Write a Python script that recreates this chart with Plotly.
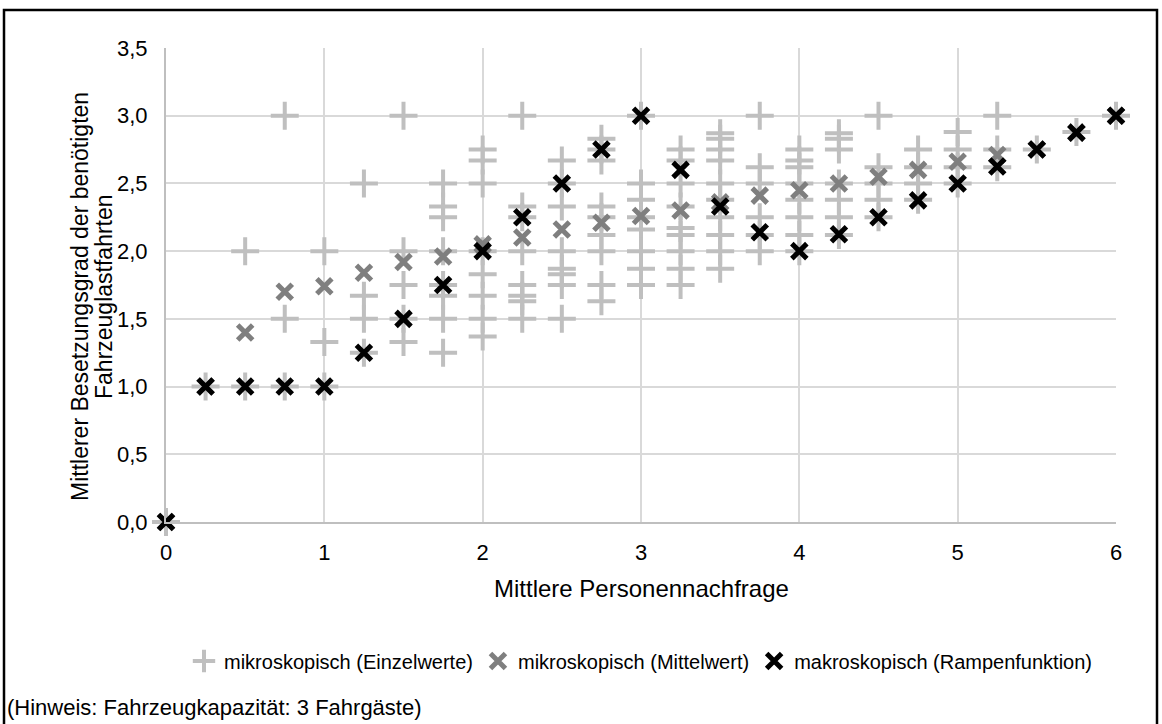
import plotly.graph_objects as go

# ---- data ----
demand_levels = [0, 0.25, 0.5, 0.75, 1.0, 1.25, 1.5, 1.75, 2.0, 2.25, 2.5, 2.75, 3.0,
                 3.25, 3.5, 3.75, 4.0, 4.25, 4.5, 4.75, 5.0, 5.25, 5.5, 5.75, 6.0]

individual_values = [
    [0.0],
    [1.0],
    [2.0, 1.0],
    [3.0, 1.5, 1.0],
    [2.0, 1.33, 1.0],
    [2.5, 1.67, 1.5, 1.25],
    [3.0, 2.0, 1.75, 1.5, 1.33],
    [2.5, 2.33, 2.25, 2.0, 1.75, 1.67, 1.5, 1.25],
    [2.75, 2.67, 2.5, 2.0, 1.83, 1.67, 1.5, 1.37],
    [3.0, 2.33, 2.25, 2.0, 1.75, 1.67, 1.63, 1.5],
    [2.67, 2.5, 2.33, 2.0, 1.87, 1.83, 1.75, 1.5],
    [2.83, 2.75, 2.67, 2.33, 2.25, 2.12, 2.0, 1.75, 1.63],
    [3.0, 2.5, 2.38, 2.25, 2.16, 2.0, 1.87, 1.75],
    [2.75, 2.67, 2.5, 2.33, 2.17, 2.12, 2.0, 1.87, 1.75],
    [2.87, 2.83, 2.75, 2.67, 2.5, 2.38, 2.25, 2.12, 2.0, 1.87],
    [3.0, 2.62, 2.5, 2.25, 2.12, 2.0],
    [2.75, 2.67, 2.62, 2.5, 2.38, 2.25, 2.12, 2.0],
    [2.87, 2.83, 2.75, 2.5, 2.38, 2.25, 2.12],
    [3.0, 2.62, 2.5, 2.38, 2.25],
    [2.75, 2.62, 2.5, 2.38],
    [2.88, 2.75, 2.62, 2.5],
    [3.0, 2.75, 2.62],
    [2.75],
    [2.88],
    [3.0],
]

mean_values = [0.0, 1.0, 1.40, 1.70, 1.74, 1.84, 1.92, 1.96, 2.05, 2.10, 2.16, 2.21, 2.26,
               2.30, 2.36, 2.41, 2.45, 2.50, 2.55, 2.60, 2.66, 2.71, 2.75, 2.875, 3.0]

ramp_values = [0.0, 1.0, 1.0, 1.0, 1.0, 1.25, 1.5, 1.75, 2.0, 2.25, 2.5, 2.75, 3.0,
               2.6, 2.33, 2.14, 2.0, 2.125, 2.25, 2.375, 2.5, 2.625, 2.75, 2.875, 3.0]

series_names = ["mikroskopisch (Einzelwerte)",
                "mikroskopisch (Mittelwert)",
                "makroskopisch (Rampenfunktion)"]

x_tick_values = [0, 1, 2, 3, 4, 5, 6]
y_tick_values = [0.0, 0.5, 1.0, 1.5, 2.0, 2.5, 3.0, 3.5]

x_title = "Mittlere Personennachfrage"
y_title_lines = ["Mittlerer Besetzungsgrad der benötigten", "Fahrzeuglastfahrten"]
note_text = "(Hinweis: Fahrzeugkapazität: 3 Fahrgäste)"

# ---- build ----
ind_x, ind_y = [], []
for d, vals in zip(demand_levels, individual_values):
    for v in vals:
        ind_x.append(d)
        ind_y.append(v)

FONT = "Liberation Sans, Arial, sans-serif"
TXT = "#000000"

fig = go.Figure()
fig.add_trace(go.Scatter(
    x=ind_x, y=ind_y, mode="markers", name=series_names[0],
    marker=dict(symbol="cross-thin", size=20, color="#BFBFBF",
                line=dict(color="#BFBFBF", width=4)),
    cliponaxis=False))
fig.add_trace(go.Scatter(
    x=demand_levels, y=mean_values, mode="markers", name=series_names[1],
    marker=dict(symbol="x-thin", size=15, color="#7F7F7F",
                line=dict(color="#7F7F7F", width=5)),
    cliponaxis=False))
fig.add_trace(go.Scatter(
    x=demand_levels, y=ramp_values, mode="markers", name=series_names[2],
    marker=dict(symbol="x-thin", size=15, color="#000000",
                line=dict(color="#000000", width=5)),
    cliponaxis=False))

L, R, T, B = 166, 46, 48, 202
W, H = 1162, 724
pw, ph = W - L - R, H - T - B

def px_x(p):
    return (p - L) / pw

def px_y(p):
    return (H - B - p) / ph

annotations = [
    dict(text=x_title, xref="paper", yref="paper", x=px_x(641), y=px_y(588),
         xanchor="center", yanchor="middle", showarrow=False,
         font=dict(family=FONT, size=24, color=TXT)),
    dict(text=y_title_lines[0], xref="paper", yref="paper", x=px_x(80), y=px_y(297),
         xanchor="center", yanchor="middle", showarrow=False, textangle=-90,
         font=dict(family=FONT, size=23, color=TXT)),
    dict(text=y_title_lines[1], xref="paper", yref="paper", x=px_x(104), y=px_y(297),
         xanchor="center", yanchor="middle", showarrow=False, textangle=-90,
         font=dict(family=FONT, size=23, color=TXT)),
    dict(text=note_text, xref="paper", yref="paper", x=px_x(5), y=px_y(707),
         xanchor="left", yanchor="middle", showarrow=False,
         font=dict(family=FONT, size=22, color=TXT)),
]

fig.update_layout(
    width=W, height=H,
    margin=dict(l=L, r=R, t=T, b=B, pad=0),
    paper_bgcolor="white", plot_bgcolor="white",
    separators=",.",
    font=dict(family=FONT, size=22, color=TXT),
    showlegend=True,
    legend=dict(orientation="h", x=0.5, xanchor="center",
                y=px_y(661), yanchor="middle",
                font=dict(family=FONT, size=20, color=TXT),
                itemwidth=30, bgcolor="rgba(0,0,0,0)"),
    xaxis=dict(range=[0, 6], tickvals=x_tick_values, tickformat="d",
               showgrid=True, gridcolor="#D9D9D9", gridwidth=2,
               zeroline=False, showline=True, linecolor="#BFBFBF", linewidth=2,
               ticks="", ticklabelstandoff=10,
               tickfont=dict(family=FONT, size=22, color=TXT)),
    yaxis=dict(range=[0, 3.5], tickvals=y_tick_values, tickformat=".1f",
               showgrid=True, gridcolor="#D9D9D9", gridwidth=2,
               zeroline=False, showline=True, linecolor="#BFBFBF", linewidth=2,
               ticks="", ticklabelstandoff=12,
               tickfont=dict(family=FONT, size=22, color=TXT)),
    shapes=[dict(type="rect", xref="paper", yref="paper",
                 x0=px_x(4), x1=px_x(1157), y0=px_y(740), y1=px_y(10),
                 line=dict(color="black", width=2.5), layer="above")],
    annotations=annotations,
)

fig.write_html("out.html")
